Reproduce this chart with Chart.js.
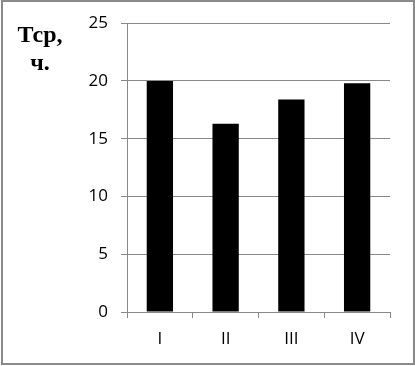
<!DOCTYPE html>
<html>
<head>
<meta charset="utf-8">
<script src="https://cdn.jsdelivr.net/npm/chart.js@4"></script>
<style>
html,body{margin:0;padding:0;background:#fff;}
#wrap{position:relative;width:415px;height:366px;}
</style>
</head>
<body>
<div id="wrap"><canvas id="c" width="415" height="366"></canvas></div>
<script>
const categories = ["I", "II", "III", "IV"];
const values = [20, 16.3, 18.4, 19.8];
const yTicks = [0, 5, 10, 15, 20, 25];
const titleLines = ["Тср,", "ч."];

const decor = {
  id: 'decor',
  beforeDraw(chart) {
    const ctx = chart.ctx;
    ctx.save();
    ctx.fillStyle = '#fff';
    ctx.fillRect(0, 0, chart.width, chart.height);
    ctx.restore();
  },
  afterDraw(chart) {
    const ctx = chart.ctx;
    ctx.save();
    ctx.strokeStyle = '#8a8a8a';
    ctx.lineWidth = 2;
    ctx.strokeRect(2, 1, chart.width - 3, chart.height - 3);
    ctx.fillStyle = '#000';
    ctx.font = 'bold 24px "Liberation Serif", "Times New Roman", serif';
    ctx.textAlign = 'center';
    ctx.textBaseline = 'alphabetic';
    ctx.fillText(titleLines[0], 40, 42);
    ctx.fillText(titleLines[1], 40, 70);
    ctx.restore();
  }
};

new Chart(document.getElementById('c'), {
  type: 'bar',
  data: {
    labels: categories,
    datasets: [{
      data: values,
      backgroundColor: '#000',
      borderWidth: 0,
      barPercentage: 0.5,
      categoryPercentage: 0.8
    }]
  },
  options: {
    responsive: false,
    animation: false,
    devicePixelRatio: 1,
    layout: { padding: { top: 23, right: 25, bottom: 0, left: 0 } },
    plugins: { legend: { display: false }, tooltip: { enabled: false } },
    scales: {
      x: {
        grid: { display: true, drawOnChartArea: false, drawTicks: true, tickLength: 6, color: '#888', offset: true },
        border: { display: true, color: '#888', width: 1 },
        ticks: { color: '#000', font: { family: '"Open Sans", "DejaVu Sans", sans-serif', size: 17 }, padding: 11 },
        afterFit(s) { s.height = 54; }
      },
      y: {
        min: 0, max: 25,
        afterBuildTicks(s) { s.ticks = yTicks.map(v => ({ value: v })); },
        grid: { color: '#888', tickLength: 6, lineWidth: 1 },
        border: { display: true, color: '#888', width: 1 },
        ticks: { color: '#000', font: { family: '"Open Sans", "DejaVu Sans", sans-serif', size: 17 }, padding: 13 },
        afterFit(s) { s.width = 127; }
      }
    }
  },
  plugins: [decor]
});
</script>
</body>
</html>
